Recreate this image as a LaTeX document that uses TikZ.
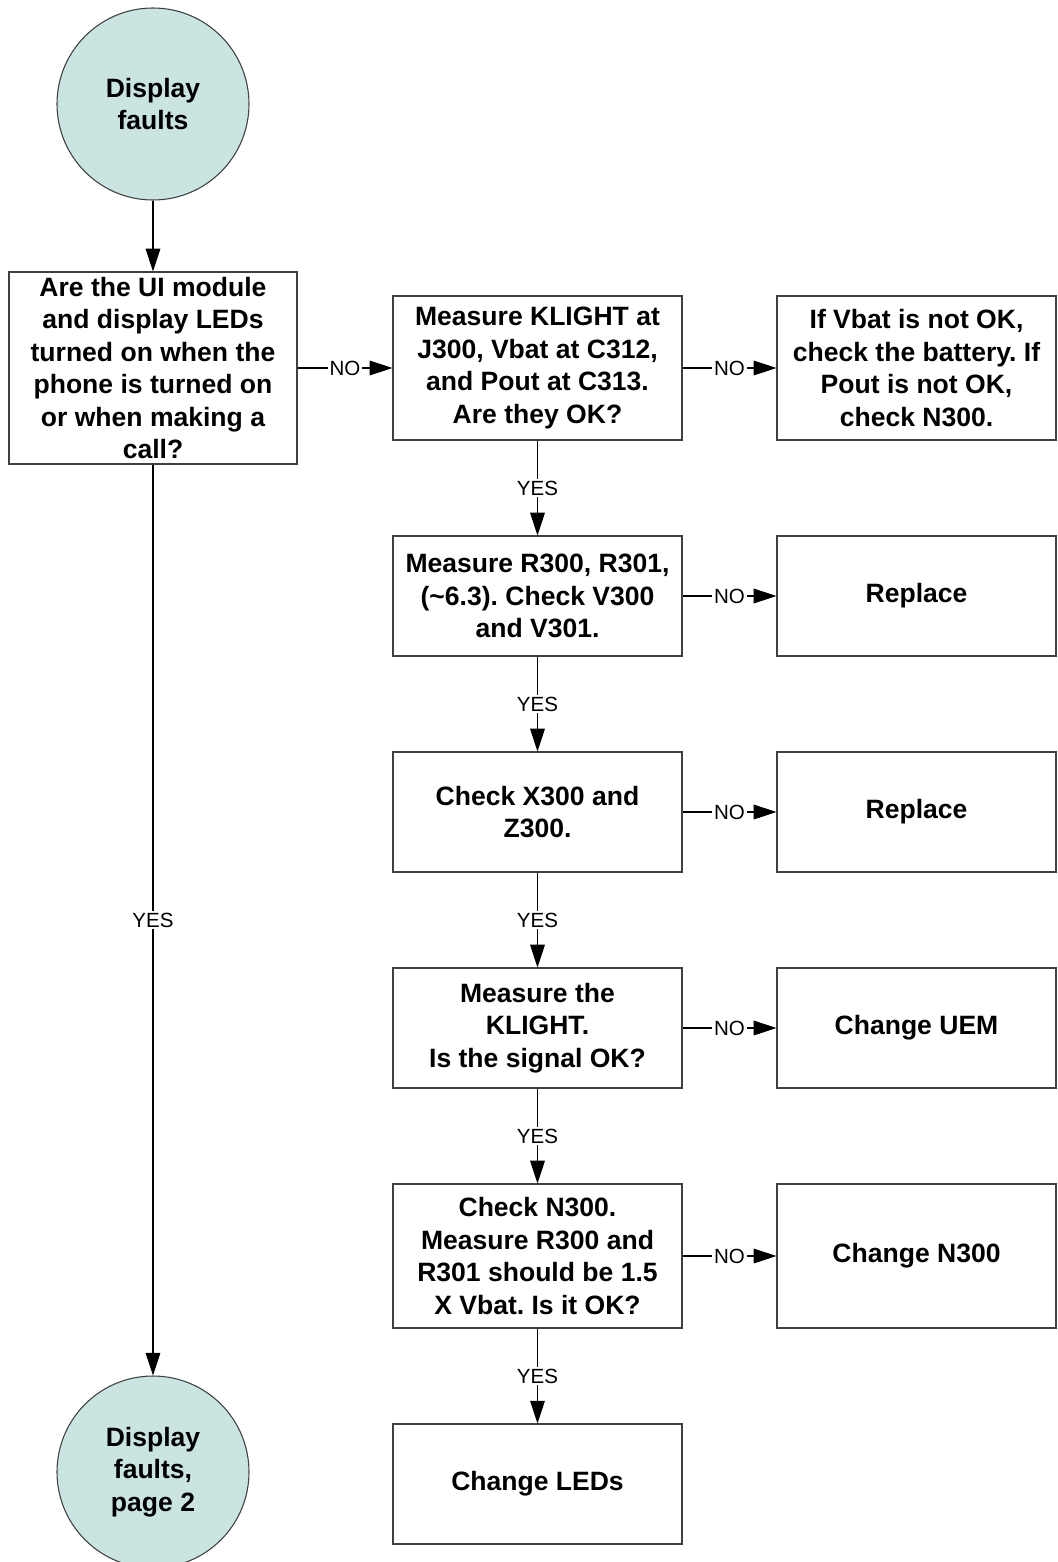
\documentclass[tikz,border=0pt]{standalone}
\usepackage{fontspec}
\setmainfont{Liberation Sans}
\usetikzlibrary{arrows.meta}
\definecolor{termfill}{RGB}{202,228,226}
\frenchspacing
\begin{document}
\begin{tikzpicture}[x=0.75pt,y=-0.75pt,
  box/.style={draw=black!75, line width=0.9pt, rectangle, align=center,
    font=\fontsize{19.9}{24.4}\selectfont\bfseries, inner sep=0pt,
    minimum width=216.75pt},
  rbox/.style={box, minimum width=209.25pt},
  tall/.style={minimum height=108pt},
  std/.style={minimum height=90pt},
  big/.style={minimum height=144pt, minimum width=216pt},
  term/.style={circle, draw=black!75, line width=0.8pt, fill=termfill,
    minimum size=144pt, inner sep=0pt, align=center,
    font=\fontsize{19.9}{24.4}\selectfont\bfseries},
  conn/.style={draw=black, line width=0.8pt, -{Triangle[length=17pt,width=11pt]}},
  lab/.style={fill=white, font=\fontsize{15.4}{18}\selectfont, inner sep=1.5pt}
]
\useasboundingbox (0,0) rectangle (1057,1562);

\node[term] (c1) at (153,104) {Display\\faults};
\node[box,big] (b1) at (153,368) {Are the UI module\\and display LEDs\\turned on when the\\phone is turned on\\or when making a\\call?};
\node[term] (c2) at (153,1472) {Display\\faults,\\page 2};

\node[box,tall] (b2) at (537.5,368) {Measure KLIGHT at\\J300, Vbat at C312,\\and Pout at C313.\\Are they OK?};
\node[box,std] (b3) at (537.5,596) {Measure R300, R301,\\(\textasciitilde6.3). Check V300\\and V301.};
\node[box,std] (b4) at (537.5,812) {Check X300 and\\Z300.};
\node[box,std] (b5) at (537.5,1028) {Measure the\\KLIGHT.\\Is the signal OK?};
\node[box,tall] (b6) at (537.5,1256) {Check N300.\\Measure R300 and\\R301 should be 1.5\\X Vbat. Is it OK?};
\node[box,std] (b7) at (537.5,1484) {Change LEDs};

\node[rbox,tall] (r2) at (916.5,368) {If Vbat is not OK,\\check the battery. If\\Pout is not OK,\\check N300.};
\node[rbox,std] (r3) at (916.5,596) {Replace};
\node[rbox,std] (r4) at (916.5,812) {Replace};
\node[rbox,std] (r5) at (916.5,1028) {Change UEM};
\node[rbox,tall] (r6) at (916.5,1256) {Change N300};

\draw[conn] (c1) -- (b1);
\draw[conn] (b1) -- node[lab]{NO} (b2);
\draw[conn] (b1) -- node[lab]{YES} (c2);

\draw[conn] (b2) -- node[lab]{NO} (r2);
\draw[conn] (b3) -- node[lab]{NO} (r3);
\draw[conn] (b4) -- node[lab]{NO} (r4);
\draw[conn] (b5) -- node[lab]{NO} (r5);
\draw[conn] (b6) -- node[lab]{NO} (r6);

\draw[conn] (b2) -- node[lab]{YES} (b3);
\draw[conn] (b3) -- node[lab]{YES} (b4);
\draw[conn] (b4) -- node[lab]{YES} (b5);
\draw[conn] (b5) -- node[lab]{YES} (b6);
\draw[conn] (b6) -- node[lab]{YES} (b7);
\end{tikzpicture}
\end{document}
